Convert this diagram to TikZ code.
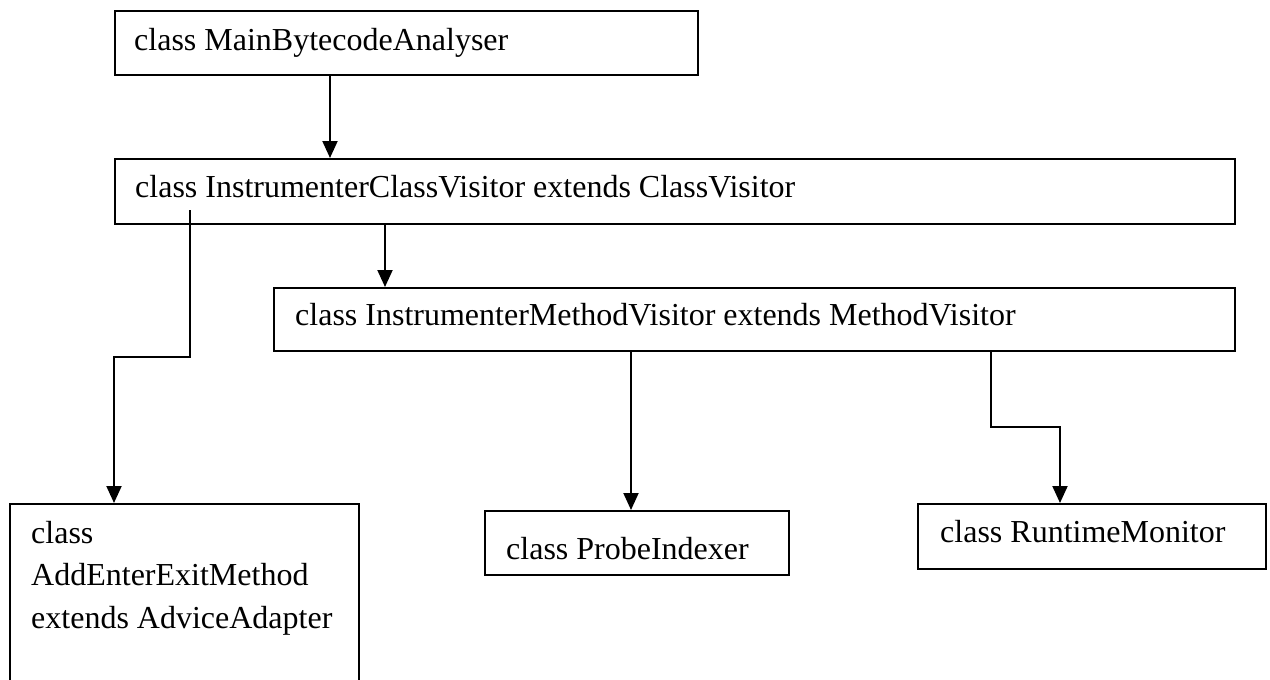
\documentclass[tikz,border=0pt]{standalone}
\usepackage{fontspec}
\setmainfont{Liberation Serif}
\usetikzlibrary{arrows.meta}
\begin{document}
\begin{tikzpicture}[x=1pt,y=-1pt,
  box/.style={draw=black, line width=1.5pt, fill=none, inner sep=0pt, anchor=north west},
  txt/.style={inner sep=0pt, anchor=base west, font=\fontsize{32}{42}\selectfont},
  conn/.style={draw=black, line width=2pt, -{Triangle[length=17pt,width=15pt]}},
  link/.style={draw=black, line width=2pt}]
\useasboundingbox (0,0) rectangle (1270,680);
\clip (0,0) rectangle (1270,680);
% boxes
\node[box, minimum width=583pt, minimum height=64pt] (b1) at (114,10) {};
\node[box, minimum width=1120pt, minimum height=65pt] (b2) at (114,158) {};
\node[box, minimum width=961pt, minimum height=63pt] (b3) at (273,287) {};
\node[box, minimum width=349pt, minimum height=220pt] (b4) at (9,503) {};
\node[box, minimum width=304pt, minimum height=64pt] (b5) at (484,510) {};
\node[box, minimum width=348pt, minimum height=65pt] (b6) at (917,503) {};
% texts
\node[txt] (t1) at (134,50) {class MainBytecodeAnalyser};
\node[txt] (t2) at (135,197) {class InstrumenterClassVisitor extends ClassVisitor};
\node[txt] (t3) at (295,325) {class InstrumenterMethodVisitor extends MethodVisitor};
\node[txt] (t4a) at (31,543) {class};
\node[txt] (t4b) at (31,585) {AddEnterExitMethod};
\node[txt] (t4c) at (31,628) {extends AdviceAdapter};
\node[txt] (t5) at (506,559) {class ProbeIndexer};
\node[txt] (t6) at (940,542) {class RuntimeMonitor};
% connector coordinates
\coordinate (a1) at (330,0);
\coordinate (a2) at (385,0);
\coordinate (s3) at (190,210);
\coordinate (k3a) at (190,357);
\coordinate (k3b) at (114,357);
\coordinate (a4) at (631,0);
\coordinate (a5) at (991,0);
\coordinate (k5a) at (991,427);
\coordinate (k5b) at (1060,427);
% connectors
\draw[conn] (a1 |- b1.south) -- (a1 |- b2.north);
\draw[conn] (a2 |- b2.south) -- (a2 |- b3.north);
\draw[conn] (s3) -- (k3a) -- (k3b) -- (k3b |- b4.north);
\draw[conn] (a4 |- b3.south) -- (a4 |- b5.north);
\draw[conn] (a5 |- b3.south) -- (k5a) -- (k5b) -- (k5b |- b6.north);
\end{tikzpicture}
\end{document}
